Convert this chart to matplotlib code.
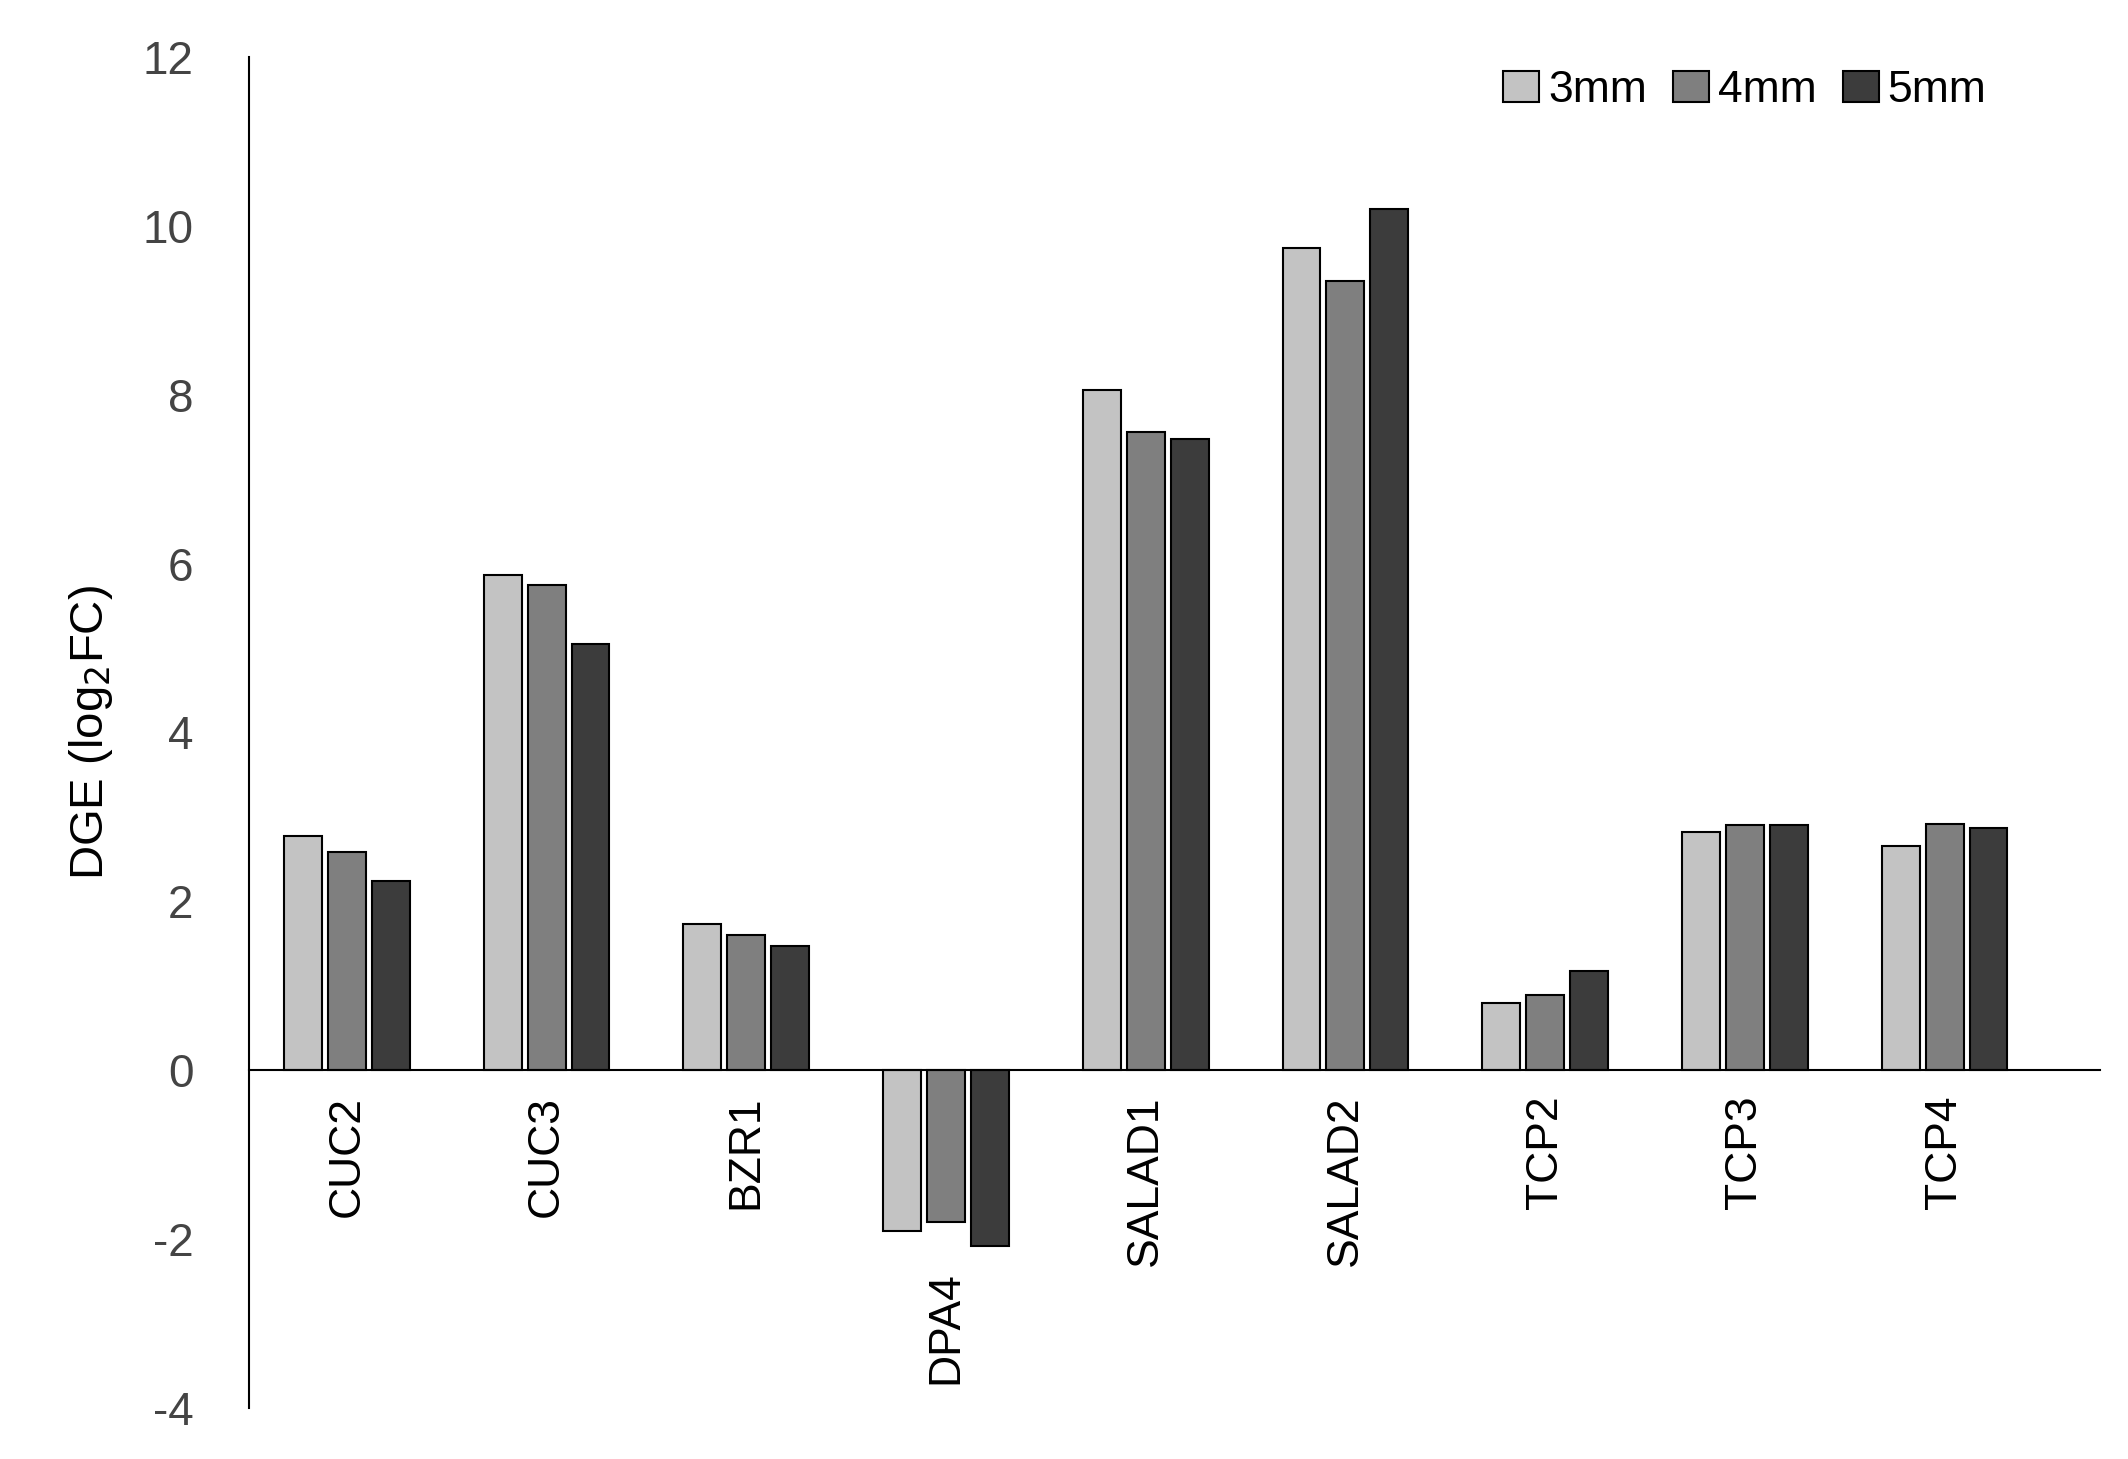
import matplotlib
matplotlib.use("Agg")
import matplotlib.pyplot as plt
import numpy as np

plt.rcParams['font.family'] = ['Liberation Sans', 'DejaVu Sans']
plt.rcParams['axes.unicode_minus'] = False

genes = ["CUC2", "CUC3", "BZR1", "DPA4", "SALAD1", "SALAD2", "TCP2", "TCP3", "TCP4"]
series = ["3mm", "4mm", "5mm"]
v3 = [2.77, 5.87, 1.73, -1.90, 8.06, 9.74, 0.79, 2.82, 2.66]
v4 = [2.58, 5.74, 1.60, -1.80, 7.56, 9.35, 0.89, 2.90, 2.92]
v5 = [2.24, 5.05, 1.47, -2.08, 7.47, 10.20, 1.18, 2.90, 2.87]
colors = ["#c3c3c3", "#7f7f7f", "#3c3c3c"]

fig = plt.figure(figsize=(21.28, 14.59), dpi=100)
ax = fig.add_axes([0.117, 0.035, 0.87, 0.926])
x = np.arange(len(genes))
w = 0.19
off = 0.22
for i, (vals, c, s) in enumerate(zip([v3, v4, v5], colors, series)):
    ax.bar(x + (i - 1) * off, vals, w, color=c, edgecolor="black", linewidth=1.5, label=s)

ax.set_ylim(-4, 12)
ax.set_xlim(-0.49, 8.78)
ax.set_yticks(range(-4, 13, 2))
ax.tick_params(axis='y', length=0, labelsize=33, pad=40, colors='#444444')
ax.tick_params(axis='x', length=0)
ax.set_xticks([])
for sp in ["top", "right"]:
    ax.spines[sp].set_visible(False)
ax.spines["bottom"].set_position(("data", 0))
ax.spines["bottom"].set_linewidth(1.5)
ax.spines["left"].set_linewidth(1.5)
for xi, g, a, b, c in zip(x, genes, v3, v4, v5):
    y0 = min(0, a, b, c) - 0.3
    ax.text(xi, y0, g, rotation=90, ha="center", va="top", fontsize=32)
ax.set_ylabel("DGE (log$_2$FC)", fontsize=34, labelpad=20)
ax.legend(loc="upper right", ncol=3, frameon=False, fontsize=32, handlelength=0.8,
          handletextpad=0.2, columnspacing=0.6, bbox_to_anchor=(0.96, 1.02))
fig.savefig("out.png", dpi=100)
